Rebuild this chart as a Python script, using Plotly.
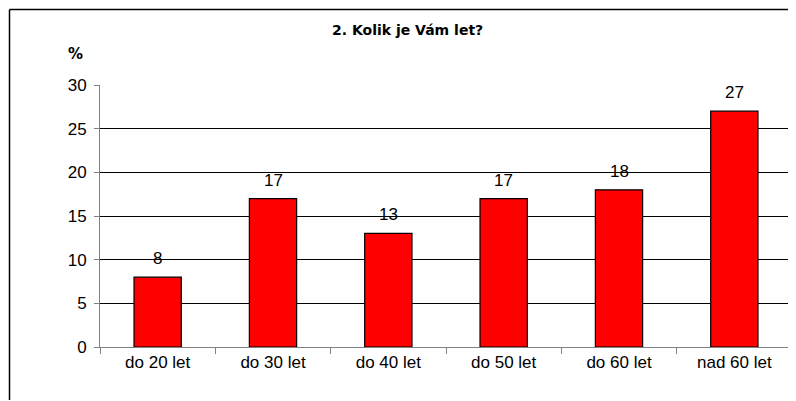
import plotly.graph_objects as go

categories = ["do 20 let", "do 30 let", "do 40 let", "do 50 let", "do 60 let", "nad 60 let"]
values = [8, 17, 13, 17, 18, 27]
y_ticks = [0, 5, 10, 15, 20, 25, 30]
title_text = "2. Kolik je Vám let?"
y_title = "%"

# page body has an 8px margin, so the figure starts at (8, 8) of the window
OFF = 8
W, H = 796 - OFF, 401 - OFF
L, R, T, B = 100 - OFF, 4, 85 - OFF, H - (347 - OFF)
pw = W - L - R
ph = H - T - B

def px_x(x):
    return (x - OFF - L) / pw

def px_y(y):
    return (H - B - (y - OFF)) / ph

fig = go.Figure()
fig.add_trace(go.Bar(
    x=categories, y=values,
    marker=dict(color="#FF0000", line=dict(color="#000000", width=1.2)),
    width=0.41,
))

for c, v in zip(categories, values):
    fig.add_annotation(x=c, y=v, text=str(v), showarrow=False,
                       yanchor="bottom", yshift=7,
                       font=dict(family="Liberation Sans, Arial", size=17, color="#000"))

fig.add_annotation(xref="paper", yref="paper", x=px_x(407), y=px_y(30), text="<b>" + title_text + "</b>",
                   showarrow=False, xanchor="center", yanchor="middle",
                   font=dict(family="DejaVu Sans", size=14, color="#000"))
fig.add_annotation(xref="paper", yref="paper", x=px_x(75), y=px_y(54), text="<b>" + y_title + "</b>",
                   showarrow=False, xanchor="center", yanchor="middle",
                   font=dict(family="DejaVu Sans", size=15, color="#000"))

# chart-area border (left and top edges visible in the window)
fig.add_shape(type="line", xref="paper", yref="paper",
              x0=px_x(9.5), x1=px_x(9.5), y0=px_y(400), y1=px_y(9.5),
              line=dict(color="#000", width=1.5), layer="above")
fig.add_shape(type="line", xref="paper", yref="paper",
              x0=px_x(9.5), x1=px_x(794), y0=px_y(9.5), y1=px_y(9.5),
              line=dict(color="#000", width=1.5), layer="above")

fig.update_layout(
    width=W, height=H,
    margin=dict(l=L, r=R, t=T, b=B),
    paper_bgcolor="white", plot_bgcolor="white",
    showlegend=False,
    font=dict(family="Liberation Sans, Arial", size=17, color="#000"),
    bargap=0.59,
)
fig.update_xaxes(
    showline=True, linecolor="#808080", linewidth=1,
    ticks="outside", tickson="boundaries", ticklen=6, tickcolor="#808080",
    showgrid=False, tickfont=dict(size=17), range=[-0.5, 5.5],
)
fig.update_yaxes(
    range=[0, 30], tickvals=y_ticks, showline=True, linecolor="#808080", linewidth=1,
    ticks="outside", ticklen=5, tickcolor="#808080",
    showgrid=True, gridcolor="#000000", gridwidth=1, zeroline=False,
    tickfont=dict(size=17), ticklabelstandoff=4,
)

fig.write_html("out.html")
